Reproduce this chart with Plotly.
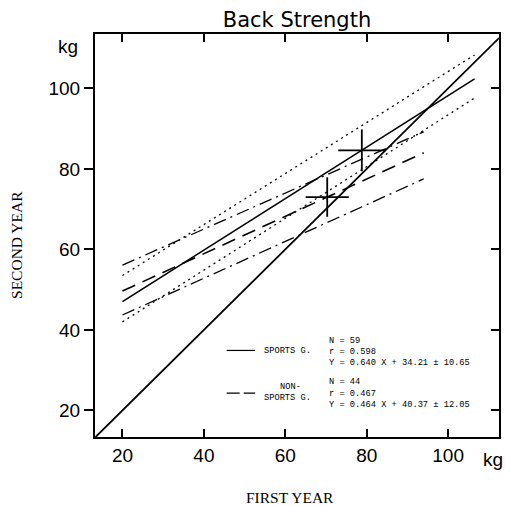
import plotly.graph_objects as go

# ---- data ----
groups = ["SPORTS G.", "NON-SPORTS G."]
n_values = [59, 44]
r_values = [0.598, 0.467]
slopes = [0.640, 0.464]
intercepts = [34.21, 40.37]
see_values = [10.65, 12.05]
x_start = [20, 20]
x_end = [106.5, 94.0]

# confidence lines (upper / lower) read as end values at x_start / x_end
upper_start = [53.5, 56.1]
upper_end = [108.3, 89.2]
lower_start = [42.0, 43.7]
lower_end = [97.6, 77.5]

# mean crosses
mean_x = [78.8, 70.3]
mean_y = [84.6, 73.0]
half_x = [5.8, 5.3]
half_y = [5.2, 4.9]

tick_vals = [20, 40, 60, 80, 100]
x_range = [13.25, 112.5]
y_range = [13.4, 113.5]

main_dash = ["solid", "14px,8px"]
band_dash = ["2px,4px", "13px,5px,2px,5px"]

fig = go.Figure()

# identity line
ident = [max(x_range[0], y_range[0]), min(x_range[1], y_range[1])]
fig.add_trace(go.Scatter(x=ident, y=ident, mode="lines",
                         line=dict(color="black", width=1.8), showlegend=False))

for i in range(2):
    xs = [x_start[i], x_end[i]]
    ys = [slopes[i] * x + intercepts[i] for x in xs]
    fig.add_trace(go.Scatter(x=xs, y=ys, mode="lines",
                             line=dict(color="black", width=1.6, dash=main_dash[i]),
                             showlegend=False))
    fig.add_trace(go.Scatter(x=xs, y=[upper_start[i], upper_end[i]], mode="lines",
                             line=dict(color="black", width=1.3, dash=band_dash[i]),
                             showlegend=False))
    fig.add_trace(go.Scatter(x=xs, y=[lower_start[i], lower_end[i]], mode="lines",
                             line=dict(color="black", width=1.3, dash=band_dash[i]),
                             showlegend=False))
    fig.add_trace(go.Scatter(x=[mean_x[i]], y=[mean_y[i]], mode="markers",
                             marker=dict(size=1, color="black"),
                             error_x=dict(type="constant", value=half_x[i], width=0,
                                          thickness=1.8, color="black"),
                             error_y=dict(type="constant", value=half_y[i], width=0,
                                          thickness=1.8, color="black"),
                             showlegend=False))

# axis 2 for inward ticks on the right side
fig.add_trace(go.Scatter(x=[None], y=[None], yaxis="y2", showlegend=False))

tick_font = dict(family="Liberation Sans, Arial, sans-serif", size=19, color="black")
fig.update_layout(
    width=505, height=506,
    margin=dict(l=95, r=6, t=34, b=69),
    paper_bgcolor="white", plot_bgcolor="white",
    title=dict(text="Back Strength", x=0.5, xref="paper", y=0.962, yanchor="middle",
               font=dict(family="DejaVu Sans", size=21, color="black")),
    xaxis=dict(range=x_range, tickvals=tick_vals, ticks="inside", ticklen=8, tickwidth=2,
               tickcolor="black", showline=True, linewidth=2, linecolor="black",
               mirror="ticks", showgrid=False, zeroline=False, tickfont=tick_font),
    yaxis=dict(range=y_range, tickvals=tick_vals, ticks="outside", ticklen=9, tickwidth=2,
               tickcolor="black", showline=True, linewidth=2, linecolor="black",
               showgrid=False, zeroline=False, tickfont=tick_font),
    yaxis2=dict(range=y_range, tickvals=tick_vals, ticks="inside", ticklen=8, tickwidth=2,
                tickcolor="black", showline=True, linewidth=2, linecolor="black",
                overlaying="y", side="right", showticklabels=False, showgrid=False,
                zeroline=False),
)

ann_font_title = dict(family="Liberation Serif, Times New Roman, serif", size=15.5, color="black")
fig.add_annotation(text="FIRST YEAR", xref="paper", yref="paper", x=0.483, y=-0.151,
                   xanchor="center", yanchor="middle", showarrow=False, font=ann_font_title)
fig.add_annotation(text="SECOND YEAR", xref="paper", yref="paper", x=-0.196, y=0.476,
                   xanchor="center", yanchor="middle", showarrow=False, textangle=-90,
                   font=ann_font_title)
fig.add_annotation(text="kg", xref="paper", yref="paper", x=-0.067, y=0.970,
                   xanchor="center", yanchor="middle", showarrow=False, font=tick_font)
fig.add_annotation(text="kg", xref="paper", yref="paper", x=0.985, y=-0.057,
                   xanchor="center", yanchor="middle", showarrow=False, font=tick_font)

# legend block (data coordinates)
leg_font = dict(family="Liberation Mono, Courier New, monospace", size=8.7, color="black")
leg_rows = [[37.3, 34.5, 31.8], [27.1, 24.1, 21.4]]
sample_y = [34.9, 24.3]
for i in range(2):
    fig.add_shape(type="line", x0=45.6, x1=52.6, y0=sample_y[i], y1=sample_y[i],
                  line=dict(color="black", width=1.2, dash=main_dash[i] if i == 0 else "13px,4px"))
    texts = [f"N = {n_values[i]}", f"r = {r_values[i]:.3f}",
             f"Y = {slopes[i]:.3f} X + {intercepts[i]:.2f} ± {see_values[i]:.2f}"]
    for t, yy in zip(texts, leg_rows[i]):
        fig.add_annotation(text=t, x=70.2, y=yy, xanchor="left", yanchor="middle",
                           showarrow=False, font=leg_font)
fig.add_annotation(text="SPORTS G.", x=54.2, y=34.7, xanchor="left", yanchor="middle",
                   showarrow=False, font=leg_font)
fig.add_annotation(text="NON-", x=58.2, y=25.8, xanchor="left", yanchor="middle",
                   showarrow=False, font=leg_font)
fig.add_annotation(text="SPORTS G.", x=54.2, y=23.1, xanchor="left", yanchor="middle",
                   showarrow=False, font=leg_font)

fig.write_html("out.html")
